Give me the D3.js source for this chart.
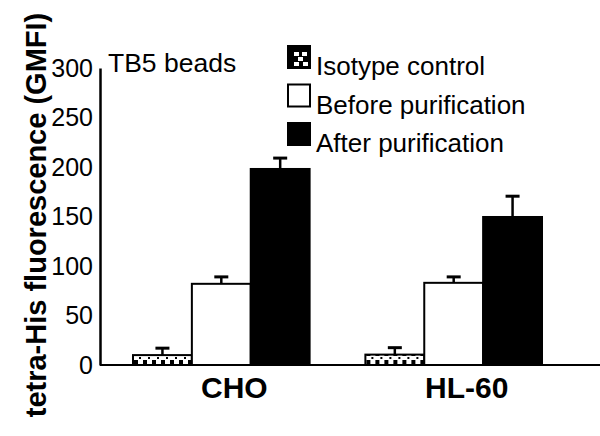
<!DOCTYPE html>
<html>
<head>
<meta charset="utf-8">
<script src="https://cdn.jsdelivr.net/npm/d3@7"></script>
<style>
  body { margin: 0; background: #fff; }
  svg { display: block; font-family: "Liberation Sans", Arial, sans-serif; }
</style>
</head>
<body>
<svg id="chart" width="600" height="436"></svg>
<script>
// data
const categories = ['CHO', 'HL-60']
const seriesNames = ['Isotype control', 'Before purification', 'After purification']
const isotypeVals = [10, 10.5]
const beforeVals = [82, 83]
const afterVals = [198, 149.5]
const isotypeErr = [7, 7]
const beforeErr = [7, 6]
const afterErr = [11, 21]
const yTicks = [0, 50, 100, 150, 200, 250, 300]

const seriesVals = [isotypeVals, beforeVals, afterVals]
const seriesErr = [isotypeErr, beforeErr, afterErr]

const svg = d3.select('#chart')

// isotype bars get a dotted fill
const defs = svg.append('defs')
const pat = defs.append('pattern')
  .attr('id', 'dots')
  .attr('width', 9).attr('height', 8)
  .attr('patternUnits', 'userSpaceOnUse')
  .attr('x', 0).attr('y', 365)
pat.append('rect').attr('width', 9).attr('height', 8).attr('fill', '#fff')
pat.append('rect').attr('x', 1).attr('y', 3).attr('width', 4).attr('height', 4).attr('fill', '#000')
pat.append('rect').attr('x', 6).attr('y', 0).attr('width', 2).attr('height', 2).attr('fill', '#000')

const swatch = defs.append('pattern')
  .attr('id', 'checks')
  .attr('width', 22).attr('height', 22)
  .attr('patternUnits', 'userSpaceOnUse')
  .attr('x', 288).attr('y', 46)
swatch.append('rect').attr('width', 22).attr('height', 22).attr('fill', '#000')
;[[4, 4], [12, 4], [8, 9], [4, 14], [13, 14]].forEach(p => {
  swatch.append('rect').attr('x', p[0]).attr('y', p[1]).attr('width', 5).attr('height', 4).attr('fill', '#fff')
})

const fills = ['url(#dots)', '#fff', '#000']
const legendFills = ['url(#checks)', '#fff', '#000']

const y = d3.scaleLinear().domain([0, 300]).range([365, 68])

const x0 = d3.scaleBand()
  .domain(categories)
  .range([100, 575])
  .paddingInner(0.24)
  .paddingOuter(0.142)

const x1 = d3.scaleBand()
  .domain(seriesNames)
  .range([0, x0.bandwidth()])

// y axis
const yAxis = svg.append('g')
  .attr('transform', 'translate(100,0)')
  .call(d3.axisLeft(y).tickValues(yTicks).tickSize(0).tickPadding(7).tickSizeOuter(0))
yAxis.select('.domain').attr('stroke', '#000').attr('stroke-width', 2.5)
yAxis.selectAll('text')
  .attr('font-family', '"Liberation Sans", Arial, sans-serif')
  .attr('font-size', 25)
  .attr('fill', '#000')

// bars
const groups = svg.selectAll('g.grp')
  .data(categories)
  .enter()
  .append('g')
  .attr('class', 'grp')
  .attr('transform', d => `translate(${x0(d)},0)`)

seriesNames.forEach((s, si) => {
  groups.append('line')
    .attr('x1', x1(s) + x1.bandwidth() / 2)
    .attr('x2', x1(s) + x1.bandwidth() / 2)
    .attr('y1', (d, i) => y(seriesVals[si][i]))
    .attr('y2', (d, i) => y(seriesVals[si][i] + seriesErr[si][i]))
    .attr('stroke', '#000').attr('stroke-width', 2.5)
  groups.append('line')
    .attr('x1', x1(s) + x1.bandwidth() / 2 - 7)
    .attr('x2', x1(s) + x1.bandwidth() / 2 + 7)
    .attr('y1', (d, i) => y(seriesVals[si][i] + seriesErr[si][i]))
    .attr('y2', (d, i) => y(seriesVals[si][i] + seriesErr[si][i]))
    .attr('stroke', '#000').attr('stroke-width', 3)
  groups.append('rect')
    .attr('x', x1(s))
    .attr('width', x1.bandwidth())
    .attr('y', (d, i) => y(seriesVals[si][i]))
    .attr('height', (d, i) => y(0) - y(seriesVals[si][i]))
    .attr('fill', fills[si])
    .attr('stroke', '#000')
    .attr('stroke-width', 2)
})

// x axis line
svg.append('line')
  .attr('x1', 100).attr('x2', 600)
  .attr('y1', y(0)).attr('y2', y(0))
  .attr('stroke', '#000').attr('stroke-width', 2)

// category labels
svg.selectAll('text.cat')
  .data(categories)
  .enter()
  .append('text')
  .attr('class', 'cat')
  .attr('x', d => x0(d) + x0.bandwidth() / 2 + 13)
  .attr('y', 398)
  .attr('text-anchor', 'middle')
  .attr('font-size', 30)
  .attr('font-weight', 'bold')
  .text(d => d)

// y title
svg.append('text')
  .attr('transform', 'translate(46,215) rotate(-90)')
  .attr('text-anchor', 'middle')
  .attr('font-size', 29)
  .attr('font-weight', 'bold')
  .text('tetra-His fluorescence (GMFI)')

svg.append('text')
  .attr('x', 108).attr('y', 72)
  .attr('font-size', 26.5)
  .text('TB5 beads')

// legend
const legend = svg.selectAll('g.leg')
  .data(seriesNames)
  .enter()
  .append('g')
  .attr('class', 'leg')
  .attr('transform', (d, i) => `translate(288,${46 + i * 38.5})`)
legend.append('rect')
  .attr('width', 22).attr('height', 22)
  .attr('fill', (d, i) => legendFills[i])
  .attr('stroke', '#000').attr('stroke-width', 2)
legend.append('text')
  .attr('x', 28).attr('y', 29)
  .attr('font-size', 26)
  .text(d => d)
</script>
</body>
</html>
